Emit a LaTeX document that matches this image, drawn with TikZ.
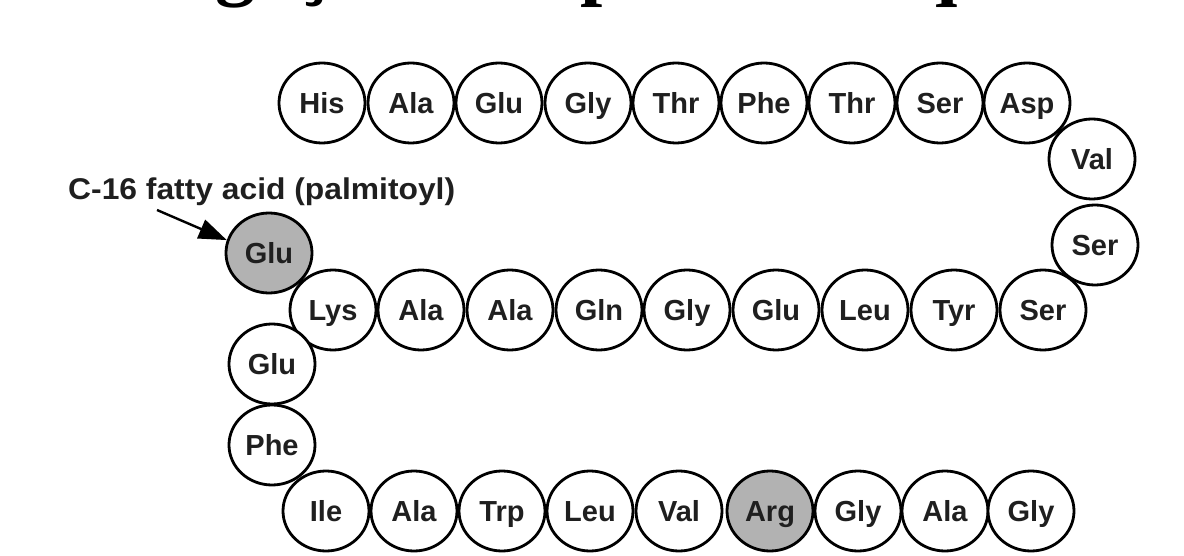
\documentclass[tikz,border=0pt]{standalone}
\usepackage{fontspec}
\setmainfont{Liberation Sans}
\newfontfamily\titlefont{Liberation Serif}
\usetikzlibrary{arrows.meta,shapes.geometric}
\begin{document}
\begin{tikzpicture}[x=1pt,y=-1pt,
  res/.style={ellipse, draw=black, line width=2.8pt, fill=white,
    minimum width=86pt, minimum height=80pt, inner sep=0pt,
    text height=21pt, text depth=0pt,
    font=\bfseries\fontsize{29}{29}\selectfont, text=black!88},
  mod/.style={res, fill=black!30},
  note/.style={font=\bfseries\fontsize{30}{30}\selectfont, text=black!88,
    inner sep=0pt, xscale=1.06},
  pointer/.style={line width=2.4pt, -{Triangle[length=28pt,width=20pt]}}]
\useasboundingbox (0,0) rectangle (1184,556);

% heading, cut off by the top edge
\begin{scope}
  \clip (0,0) rectangle (1184,40);
  \node[anchor=base west, inner sep=0pt,
        font=\titlefont\bfseries\fontsize{80}{80}\selectfont] (heading) at (140,-9)
        {Ligações em ponte e sequência};
\end{scope}

% top row
\node[res] (r1) at (322,103) {His};
\node[res] (r2) at (411,103) {Ala};
\node[res] (r3) at (499,103) {Glu};
\node[res] (r4) at (588,103) {Gly};
\node[res] (r5) at (676,103) {Thr};
\node[res] (r6) at (764,103) {Phe};
\node[res] (r7) at (852,103) {Thr};
\node[res] (r8) at (940,103) {Ser};
\node[res] (r9) at (1027,103) {Asp};
% right turn
\node[res] (r10) at (1092,159) {Val};
\node[res] (r11) at (1095,245) {Ser};
% middle row
\node[res] (r12) at (1043,310) {Ser};
\node[res] (r13) at (954,310) {Tyr};
\node[res] (r14) at (865,310) {Leu};
\node[res] (r15) at (776,310) {Glu};
\node[res] (r16) at (687,310) {Gly};
\node[res] (r17) at (599,310) {Gln};
\node[res] (r18) at (510,310) {Ala};
\node[res] (r19) at (421,310) {Ala};
\node[res] (r20) at (333,310) {Lys};
% left turn
\node[mod] (r21) at (269,253) {Glu};
\node[res] (r22) at (272,364) {Glu};
\node[res] (r23) at (272,445) {Phe};
% bottom row
\node[res] (r24) at (326,511) {Ile};
\node[res] (r25) at (414,511) {Ala};
\node[res] (r26) at (502,511) {Trp};
\node[res] (r27) at (590,511) {Leu};
\node[res] (r28) at (679,511) {Val};
\node[mod] (r29) at (770,511) {Arg};
\node[res] (r30) at (858,511) {Gly};
\node[res] (r31) at (945,511) {Ala};
\node[res] (r32) at (1031,511) {Gly};

% fatty acid label and its arrow
\node[note, anchor=base west] (fa) at (68,200) {C-16 fatty acid (palmitoyl)};
\coordinate (fatail) at (157,210);
\draw[pointer] (fatail) -- (r21.163);
\end{tikzpicture}
\end{document}
